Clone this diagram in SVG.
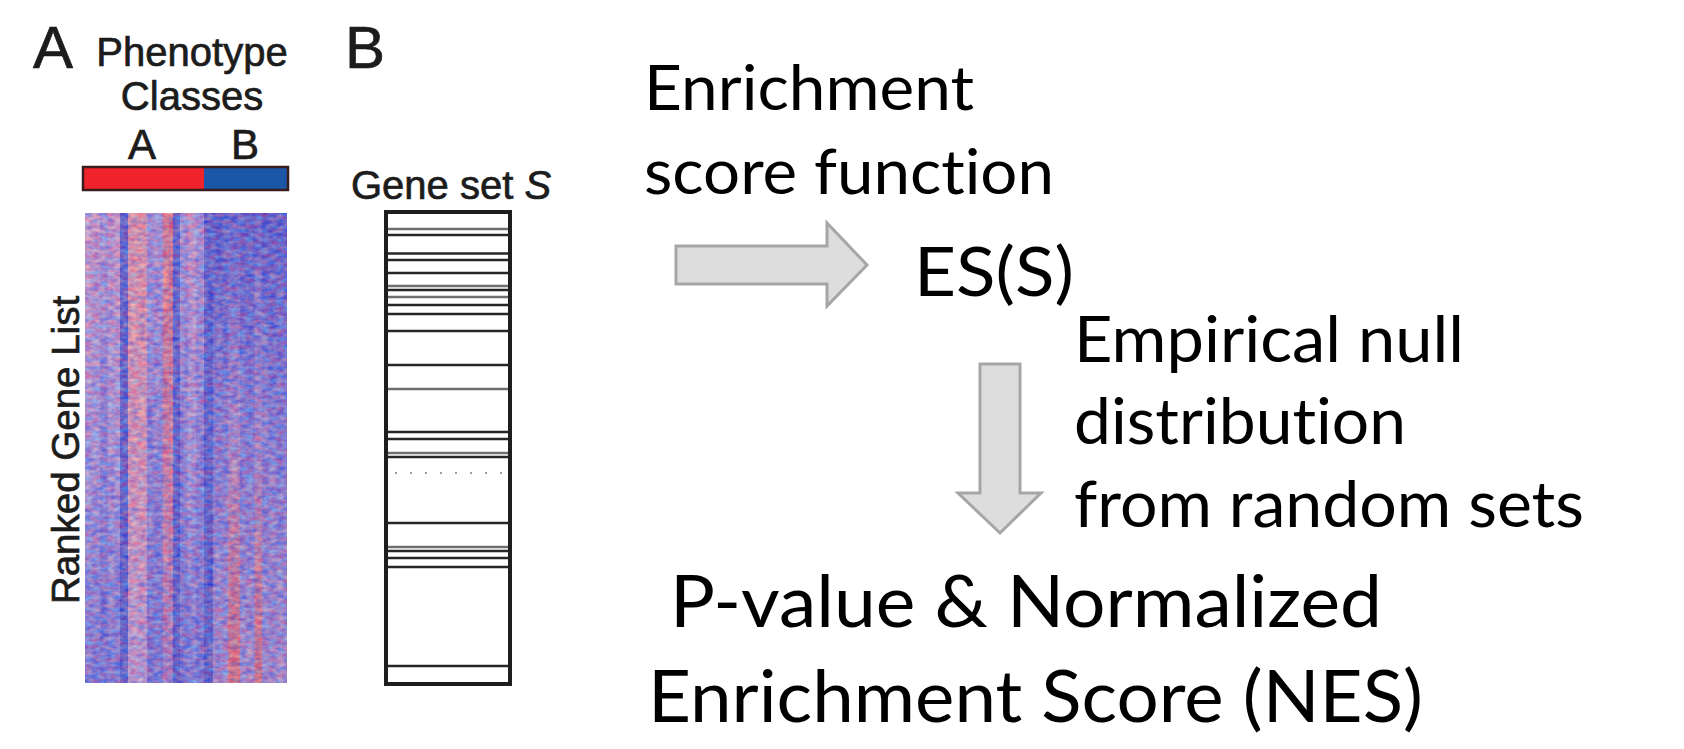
<svg xmlns="http://www.w3.org/2000/svg" width="1684" height="749" viewBox="0 0 1684 749">
  <style>
    .hv { font-family: "Liberation Sans", Arial, sans-serif; fill: #1c1c1c; stroke: #1c1c1c; stroke-width: 0.7; }
    .cal { font-family: Lato, "Noto Sans", sans-serif; fill: #000; font-variant-ligatures: none; font-feature-settings: "liga" 0; }
    .gl { stroke: #262626; stroke-width: 2.5; }
    .gl2 { stroke: #6e6e6e; stroke-width: 2.5; }
    .blk { fill: #dddddd; stroke: #a6a6a6; stroke-width: 3; stroke-linejoin: miter; }
  </style>
  <defs>
    <linearGradient id="gPink" x1="0" y1="0" x2="0" y2="1">
      <stop offset="0" stop-color="#d49cc2"/><stop offset="0.5" stop-color="#a898d6"/><stop offset="1" stop-color="#7676d2"/>
    </linearGradient>
    <linearGradient id="gPurp" x1="0" y1="0" x2="0" y2="1">
      <stop offset="0" stop-color="#a894d4"/><stop offset="1" stop-color="#6c6ccf"/>
    </linearGradient>
    <linearGradient id="gRed" x1="0" y1="0" x2="0" y2="1">
      <stop offset="0" stop-color="#e87478"/><stop offset="0.6" stop-color="#d67894"/><stop offset="1" stop-color="#a67cbc"/>
    </linearGradient>
    <linearGradient id="gBlue" x1="0" y1="0" x2="0" y2="1">
      <stop offset="0" stop-color="#4d56c8"/><stop offset="1" stop-color="#4a52c2"/>
    </linearGradient>
    <linearGradient id="gBtop" x1="0" y1="0" x2="0" y2="1">
      <stop offset="0" stop-color="#4c50c4"/><stop offset="0.45" stop-color="#7c78d0"/><stop offset="1" stop-color="#a088c8"/>
    </linearGradient>
    <linearGradient id="gBred" x1="0" y1="0" x2="0" y2="1">
      <stop offset="0" stop-color="#5a5cca"/><stop offset="0.45" stop-color="#a488c8"/><stop offset="1" stop-color="#e86a66"/>
    </linearGradient>
    <filter id="hmNoise" x="0" y="0" width="1" height="1" color-interpolation-filters="sRGB">
      <feTurbulence type="fractalNoise" baseFrequency="0.13 0.24" numOctaves="2" seed="7"/>
      <feColorMatrix type="matrix" values="1.6 0.5 0 0 -0.45  0 1.2 0 0 -0.1  -0.8 0.4 0 0 1.0  0 0 0 0 0.38"/>
    </filter>
  </defs>

  <!-- Panel A -->
  <g id="panelA">
    <text class="hv" x="33" y="68" font-size="60">A</text>
    <text class="hv" x="192" y="66" font-size="40" text-anchor="middle">Phenotype</text>
    <text class="hv" x="192" y="110" font-size="40" text-anchor="middle">Classes</text>
    <text class="hv" x="142" y="159" font-size="42" text-anchor="middle">A</text>
    <text class="hv" x="245" y="159" font-size="42" text-anchor="middle">B</text>
    <rect x="83" y="167" width="121" height="23" fill="#f0222b"/>
    <rect x="204" y="167" width="84" height="23" fill="#1b56a8"/>
    <rect x="83" y="167" width="205" height="23" fill="none" stroke="#3a1c1c" stroke-width="2.5"/>
    <g id="heatmap">
      <rect x="85" y="213" width="15" height="470" fill="url(#gPink)"/>
      <rect x="100" y="213" width="8" height="470" fill="url(#gPurp)"/>
      <rect x="108" y="213" width="12" height="470" fill="url(#gPink)"/>
      <rect x="120" y="213" width="8" height="470" fill="url(#gBlue)"/>
      <rect x="128" y="213" width="19" height="470" fill="url(#gRed)" opacity="0.75"/>
      <rect x="147" y="213" width="16" height="470" fill="url(#gPurp)"/>
      <rect x="163" y="213" width="10" height="470" fill="url(#gRed)"/>
      <rect x="173" y="213" width="7" height="470" fill="url(#gBlue)"/>
      <rect x="180" y="213" width="8" height="470" fill="url(#gPurp)"/>
      <rect x="188" y="213" width="8" height="470" fill="url(#gPink)"/>
      <rect x="196" y="213" width="8" height="470" fill="url(#gPurp)"/>
      <rect x="204" y="213" width="9" height="470" fill="url(#gBlue)"/>
      <rect x="213" y="213" width="15" height="470" fill="url(#gBtop)"/>
      <rect x="228" y="213" width="12" height="470" fill="url(#gBred)"/>
      <rect x="240" y="213" width="15" height="470" fill="url(#gBtop)"/>
      <rect x="255" y="213" width="7" height="470" fill="url(#gBred)"/>
      <rect x="262" y="213" width="25" height="470" fill="url(#gBtop)"/>
      <rect x="85" y="213" width="202" height="470" fill="#888" filter="url(#hmNoise)"/>
    </g>
    <text class="hv" font-size="38.5" text-anchor="middle" transform="translate(79,450) rotate(-90)">Ranked Gene List</text>
  </g>

  <!-- Panel B -->
  <g id="panelB">
    <text class="hv" x="345" y="68" font-size="60">B</text>
    <text class="hv" x="351" y="199" font-size="40">Gene set <tspan font-style="italic">S</tspan></text>
    <g id="genesetLines">
      <line class="gl2" x1="388" y1="229" x2="508" y2="229"/>
      <line class="gl" x1="388" y1="235" x2="508" y2="235"/>
      <line class="gl" x1="388" y1="253.5" x2="508" y2="253.5" stroke-width="4.5"/>
      <line class="gl" x1="388" y1="260" x2="508" y2="260"/>
      <line class="gl" x1="388" y1="273" x2="508" y2="273"/>
      <line class="gl2" x1="388" y1="286" x2="508" y2="286"/>
      <line class="gl" x1="388" y1="290" x2="508" y2="290"/>
      <line class="gl2" x1="388" y1="297" x2="508" y2="297"/>
      <line class="gl" x1="388" y1="305" x2="508" y2="305"/>
      <line class="gl" x1="388" y1="314" x2="508" y2="314"/>
      <line class="gl" x1="388" y1="331" x2="508" y2="331"/>
      <line class="gl" x1="388" y1="365" x2="508" y2="365" stroke-width="3"/>
      <line class="gl2" x1="388" y1="389" x2="508" y2="389"/>
      <line class="gl" x1="388" y1="432" x2="508" y2="432"/>
      <line class="gl" x1="388" y1="439" x2="508" y2="439"/>
      <line class="gl2" x1="388" y1="453" x2="508" y2="453"/>
      <line class="gl" x1="388" y1="457" x2="508" y2="457"/>
      <line x1="395" y1="473" x2="508" y2="473" stroke="#9a9a9a" stroke-width="2" stroke-dasharray="2 13"/>
      <line class="gl" x1="388" y1="523" x2="508" y2="523"/>
      <line class="gl2" x1="388" y1="547" x2="508" y2="547"/>
      <line class="gl" x1="388" y1="551" x2="508" y2="551"/>
      <line class="gl" x1="388" y1="558" x2="508" y2="558"/>
      <line class="gl" x1="388" y1="567" x2="508" y2="567"/>
      <line class="gl" x1="388" y1="666" x2="508" y2="666"/>
    </g>
    <rect x="386" y="212" width="124" height="472" fill="none" stroke="#1e1e1e" stroke-width="4"/>
  </g>

  <!-- Right side texts -->
  <g id="esFunction">
    <text class="cal" x="644" y="110" font-size="62" textLength="330" lengthAdjust="spacingAndGlyphs">Enrichment</text>
    <text class="cal" x="644" y="194" font-size="62" textLength="410" lengthAdjust="spacingAndGlyphs">score function</text>
  </g>
  <g id="esS">
    <text class="cal" x="914" y="296" font-size="68" textLength="160" lengthAdjust="spacingAndGlyphs">ES(S)</text>
  </g>
  <g id="nullDist">
    <text class="cal" x="1074" y="362" font-size="63" textLength="390" lengthAdjust="spacingAndGlyphs">Empirical null</text>
    <text class="cal" x="1074" y="444" font-size="63" textLength="332" lengthAdjust="spacingAndGlyphs">distribution</text>
    <text class="cal" x="1074" y="527" font-size="63" textLength="510" lengthAdjust="spacingAndGlyphs">from random sets</text>
  </g>
  <g id="nes">
    <text class="cal" x="670" y="627" font-size="72" textLength="712" lengthAdjust="spacingAndGlyphs">P-value &amp; Normalized</text>
    <text class="cal" x="648" y="722" font-size="72" textLength="775" lengthAdjust="spacingAndGlyphs">Enrichment Score (NES)</text>
  </g>

  <!-- Connectors -->
  <g id="connectors">
    <polygon class="blk" points="676,246 827,246 827,223 867,265 827,306 827,284 676,284"/>
    <polygon class="blk" points="980,364 1020,364 1020,493 1041,493 1000,533 958,493 980,493"/>
  </g>
</svg>
